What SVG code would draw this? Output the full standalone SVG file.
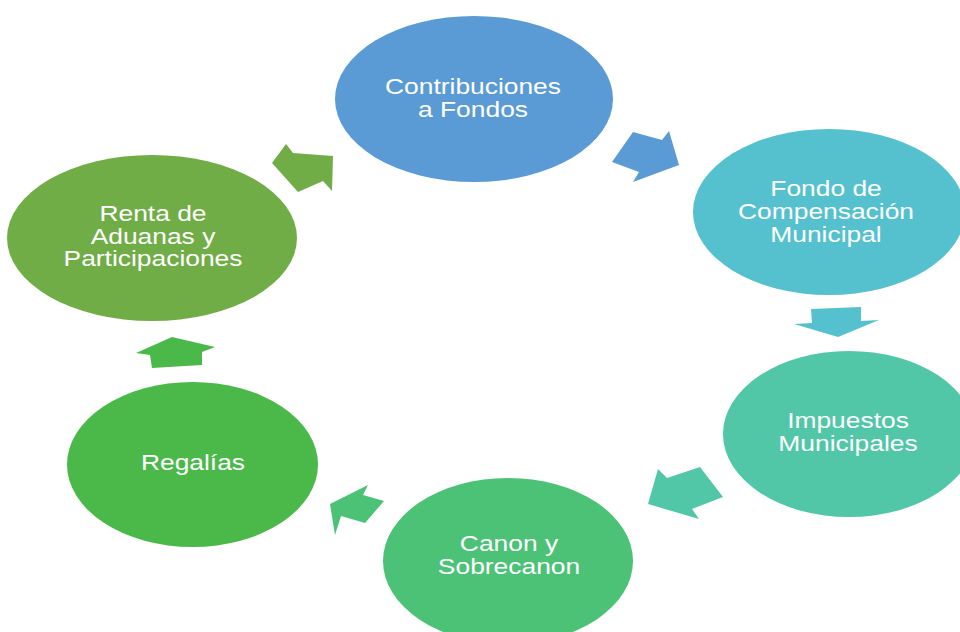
<svg xmlns="http://www.w3.org/2000/svg" width="960" height="632" viewBox="0 0 960 632">
<style>
text{font-family:"Liberation Sans",Arial,sans-serif;font-size:22px;fill:#ffffff;text-anchor:middle}
</style>
<rect width="960" height="632" fill="#ffffff"/>
<g id="connectors">
<polygon fill="#5B9BD5" points="612,162 633,132 662,140 669,131 679,165 633,182 639,172"/>
<polygon fill="#55C1CF" points="811,309 861,307 861,321 879,320 838,337 794,324 812,323"/>
<polygon fill="#51C7A8" points="658,469 667,478 700,467 723,497 692,509 699,519 648,504"/>
<polygon fill="#4CC277" points="368,485 363,495 384,501 365,523 341,516 335,535 330,504"/>
<polygon fill="#4AB94A" points="172,337 215,347 202,352 202,365 152,368 150,355 136,353"/>
<polygon fill="#70AD47" points="286,144 293,153 333,156 332,191 323,181 298,192 272,163"/>
</g>
<g id="contribuciones">
<ellipse cx="474" cy="99" rx="139" ry="83" fill="#5B9BD5"/>
<text transform="matrix(1.2 0 0 1 473 0)" x="0" y="94">Contribuciones</text>
<text transform="matrix(1.2 0 0 1 473 0)" x="0" y="117">a Fondos</text>
</g>
<g id="fondo">
<ellipse cx="829" cy="212" rx="136" ry="83" fill="#55C1CF"/>
<text transform="matrix(1.2 0 0 1 826 0)" x="0" y="196">Fondo de</text>
<text transform="matrix(1.2 0 0 1 826 0)" x="0" y="219">Compensación</text>
<text transform="matrix(1.2 0 0 1 826 0)" x="0" y="242">Municipal</text>
</g>
<g id="impuestos">
<ellipse cx="849" cy="434" rx="126" ry="83" fill="#51C7A8"/>
<text transform="matrix(1.2 0 0 1 848 0)" x="0" y="428">Impuestos</text>
<text transform="matrix(1.2 0 0 1 848 0)" x="0" y="451">Municipales</text>
</g>
<g id="canon">
<ellipse cx="508" cy="561" rx="125" ry="83" fill="#4CC277"/>
<text transform="matrix(1.2 0 0 1 509 0)" x="0" y="551">Canon y</text>
<text transform="matrix(1.2 0 0 1 509 0)" x="0" y="574">Sobrecanon</text>
</g>
<g id="regalias">
<ellipse cx="192.5" cy="464.5" rx="125.5" ry="82.5" fill="#4AB94A"/>
<text transform="matrix(1.2 0 0 1 193 0)" x="0" y="470">Regalías</text>
</g>
<g id="renta">
<ellipse cx="152" cy="238" rx="145" ry="83" fill="#70AD47"/>
<text transform="matrix(1.2 0 0 1 153 0)" x="0" y="221">Renta de</text>
<text transform="matrix(1.2 0 0 1 153 0)" x="0" y="244">Aduanas y</text>
<text transform="matrix(1.2 0 0 1 153 0)" x="0" y="266">Participaciones</text>
</g>
</svg>
